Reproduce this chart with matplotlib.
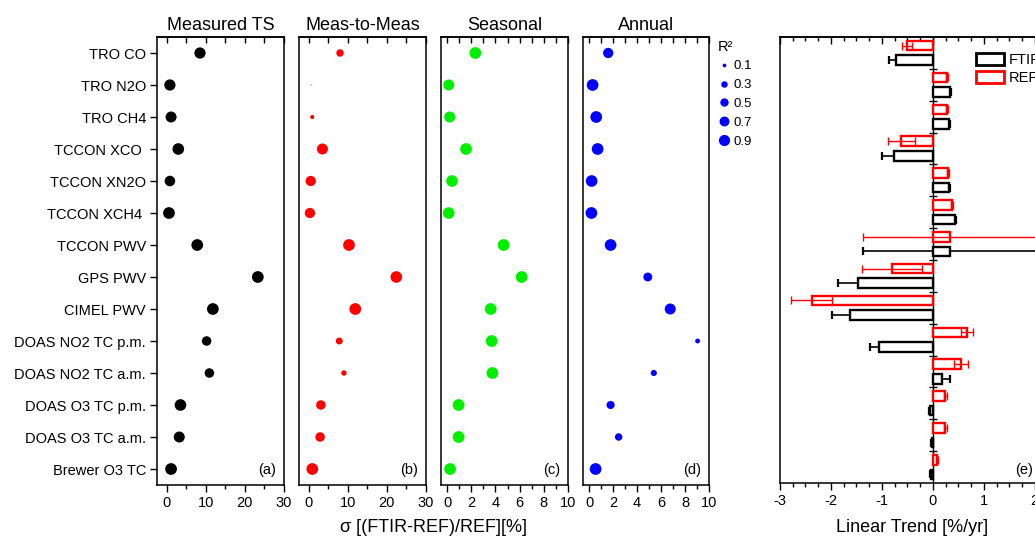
import numpy as np
import matplotlib
matplotlib.use('Agg')
import matplotlib.pyplot as plt
from matplotlib.lines import Line2D
from matplotlib.patches import Patch
from matplotlib.ticker import MultipleLocator

plt.rcParams['font.family'] = ['Liberation Sans', 'DejaVu Sans']
plt.rcParams['axes.unicode_minus'] = False

# ---------------- data ----------------
categories = ["TRO CO", "TRO N2O", "TRO CH4", "TCCON XCO ", "TCCON XN2O",
              "TCCON XCH4 ", "TCCON PWV", "GPS PWV", "CIMEL PWV",
              "DOAS NO2 TC p.m.", "DOAS NO2 TC a.m.", "DOAS O3 TC p.m.",
              "DOAS O3 TC a.m.", "Brewer O3 TC"]

measured_ts = [8.5, 0.8, 1.1, 2.95, 0.8, 0.56, 7.8, 23.3, 11.8, 10.2, 10.9, 3.5, 3.2, 1.1]
measured_r2 = [0.91, 0.91, 0.87, 0.97, 0.80, 0.99, 0.99, 0.99, 0.99, 0.65, 0.65, 0.97, 0.87, 0.99]

meas_to_meas = [8.0, 0.56, 0.9, 3.5, 0.5, 0.3, 10.3, 22.4, 11.9, 7.8, 9.0, 3.1, 2.9, 0.9]
meas_to_meas_r2 = [0.40, 0.01, 0.12, 0.87, 0.76, 0.76, 0.99, 0.97, 0.99, 0.34, 0.21, 0.65, 0.65, 0.99]

seasonal = [2.34, 0.14, 0.22, 1.57, 0.41, 0.14, 4.68, 6.17, 3.61, 3.69, 3.75, 0.96, 0.96, 0.25]
seasonal_r2 = [0.99, 0.87, 0.87, 0.99, 0.97, 0.97, 0.99, 0.99, 0.99, 0.99, 0.99, 0.99, 0.99, 0.99]

annual = [1.6, 0.3, 0.6, 0.72, 0.22, 0.2, 1.8, 4.9, 6.77, 9.05, 5.4, 1.8, 2.47, 0.55]
annual_r2 = [0.76, 0.99, 0.99, 0.99, 0.97, 0.99, 0.99, 0.57, 0.87, 0.17, 0.27, 0.48, 0.40, 0.99]

legend_r2 = [0.1, 0.3, 0.5, 0.7, 0.9]

ref_trend = [-0.51, 0.27, 0.27, -0.62, 0.29, 0.38, 0.33, -0.80, -2.38, 0.67, 0.55, 0.24, 0.24, 0.09]
ref_err = [0.10, 0.02, 0.02, 0.27, 0.02, 0.02, 1.71, 0.59, 0.41, 0.11, 0.13, 0.03, 0.03, 0.01]
ftir_trend = [-0.73, 0.33, 0.31, -0.76, 0.31, 0.43, 0.33, -1.47, -1.62, -1.06, 0.18, -0.05, -0.01, -0.04]
ftir_err = [0.13, 0.02, 0.02, 0.24, 0.02, 0.02, 1.71, 0.39, 0.36, 0.17, 0.15, 0.02, 0.02, 0.02]

panel_titles = ["Measured TS", "Meas-to-Meas", "Seasonal", "Annual"]
panel_letters = ["(a)", "(b)", "(c)", "(d)"]
panel_colors = ["black", "#ff0000", "#00ee00", "#0000ff"]

# ---------------- figure ----------------
W, H = 1035, 540
fig = plt.figure(figsize=(W / 100, H / 100), dpi=100)

def fx(px):
    return px / W

def fy(py):
    return 1 - py / H

SIZE_K = (11.8 * 0.72) ** 2  # marker area (pt^2) for R^2 = 1
top_px, bot_px = 37, 485
panel_lr = [(157, 284), (299, 426), (441, 568), (583, 709)]
values = [measured_ts, meas_to_meas, seasonal, annual]
r2s = [measured_r2, meas_to_meas_r2, seasonal_r2, annual_r2]
xlims = [(-2.5, 30), (-2.5, 30), (-0.5, 10), (-0.5, 10)]
xmaj = [10, 10, 2, 2]
xmin = [5, 5, 1, 1]
y = np.arange(len(categories))

for i in range(4):
    l, r = panel_lr[i]
    ax = fig.add_axes([fx(l), fy(bot_px), fx(r - l), (bot_px - top_px) / H])
    ax.scatter(values[i], y, s=SIZE_K * np.array(r2s[i]), color=panel_colors[i],
               edgecolors='none', zorder=3)
    ax.set_xlim(*xlims[i])
    ax.set_ylim(len(categories) - 0.5, -0.5)
    ax.xaxis.set_major_locator(MultipleLocator(xmaj[i]))
    ax.xaxis.set_minor_locator(MultipleLocator(xmin[i]))
    ax.tick_params(axis='x', which='major', direction='out', length=5, width=1,
                   labelsize=10.5, pad=3)
    ax.tick_params(axis='x', which='minor', direction='out', length=3, width=1)
    sec = ax.secondary_xaxis('top')
    sec.xaxis.set_major_locator(MultipleLocator(xmaj[i]))
    sec.xaxis.set_minor_locator(MultipleLocator(xmin[i]))
    sec.tick_params(which='both', direction='in', length=4, width=1, labeltop=False)
    if i == 0:
        ax.set_yticks(y)
        ax.set_yticklabels(categories, fontsize=10.5)
        ax.tick_params(axis='y', direction='out', length=5, width=1, pad=3)
    else:
        ax.tick_params(axis='y', left=False, labelleft=False)
    for sp in ax.spines.values():
        sp.set_linewidth(1.1)
    for sp in sec.spines.values():
        sp.set_linewidth(1.1)
    ax.set_title(panel_titles[i], fontsize=13, pad=5)
    ax.text(0.937, 0.034, panel_letters[i], transform=ax.transAxes,
            ha='right', va='center', fontsize=10.5)

# R^2 size legend
r2_handles = [Line2D([], [], marker='o', ls='none', color='#0000ff', mec='none',
                     markersize=np.sqrt(SIZE_K * v)) for v in legend_r2]
fig.legend(r2_handles, [f"{v:.1f}" for v in legend_r2], loc='upper left',
           bbox_to_anchor=(fx(711), fy(33)), frameon=False, title='R²',
           title_fontsize=10.5, fontsize=9.5, alignment='left', handletextpad=0.2,
           labelspacing=0.5, borderpad=0, handlelength=1.0)

fig.text(fx(433), fy(528), 'σ [(FTIR-REF)/REF][%]', ha='center', va='center', fontsize=13)

# ---------------- panel (e) ----------------
le, re = 780, 1045
axe = fig.add_axes([fx(le), fy(483), fx(re - le), (483 - top_px) / H])
off = 0.23
hb = 0.3
axe.axvline(0, color='black', lw=1.0, zorder=1)
axe.plot(np.zeros(len(categories) - 1), y[:-1] + 0.5, ls='none', marker='_',
         ms=6, mew=1.0, color='black', zorder=4)
# FTIR: error bars behind white-filled bars
axe.errorbar(ftir_trend, y + off, xerr=ftir_err, fmt='none', ecolor='black',
             elinewidth=1.2, capsize=3.2, capthick=1.6, zorder=2)
axe.barh(y + off, ftir_trend, height=hb, color='white', edgecolor='black',
         linewidth=1.7, zorder=3)
# REF: bars then error bars on top
axe.barh(y - off, ref_trend, height=hb, color='white', edgecolor='#ff0000',
         linewidth=1.7, zorder=3)
axe.errorbar(ref_trend, y - off, xerr=ref_err, fmt='none', ecolor='#ff0000',
             elinewidth=1.0, capsize=3.2, capthick=1.0, zorder=4)
axe.set_xlim(-3, 2.2)
axe.set_ylim(len(categories) - 0.5, -0.5)
axe.set_yticks([])
axe.xaxis.set_major_locator(MultipleLocator(1))
axe.xaxis.set_minor_locator(MultipleLocator(0.25))
axe.tick_params(axis='x', which='major', direction='out', length=5, width=1,
                labelsize=10.5, pad=3)
axe.tick_params(axis='x', which='minor', direction='out', length=3, width=1)
sece = axe.secondary_xaxis('top')
sece.xaxis.set_major_locator(MultipleLocator(1))
sece.xaxis.set_minor_locator(MultipleLocator(0.25))
sece.tick_params(which='major', direction='in', length=5, width=1, labeltop=False)
sece.tick_params(which='minor', direction='in', length=3, width=1, labeltop=False)
for sp in list(axe.spines.values()) + list(sece.spines.values()):
    sp.set_linewidth(1.1)
axe.text(0.955, 0.029, '(e)', transform=axe.transAxes, ha='right', va='center',
         fontsize=10.5)
axe.legend(handles=[Patch(facecolor='white', edgecolor='black', linewidth=2),
                    Patch(facecolor='white', edgecolor='#ff0000', linewidth=2)],
           labels=['FTIR', 'REF'], loc='upper left',
           bbox_to_anchor=(fx(969), fy(46)), bbox_transform=fig.transFigure,
           frameon=False, fontsize=10.5, handlelength=1.9, handleheight=0.85,
           handletextpad=0.35, labelspacing=0.25, borderpad=0)
fig.text(fx(912), fy(528), 'Linear Trend [%/yr]', ha='center', va='center', fontsize=13)

fig.savefig('out.png', dpi=100)
